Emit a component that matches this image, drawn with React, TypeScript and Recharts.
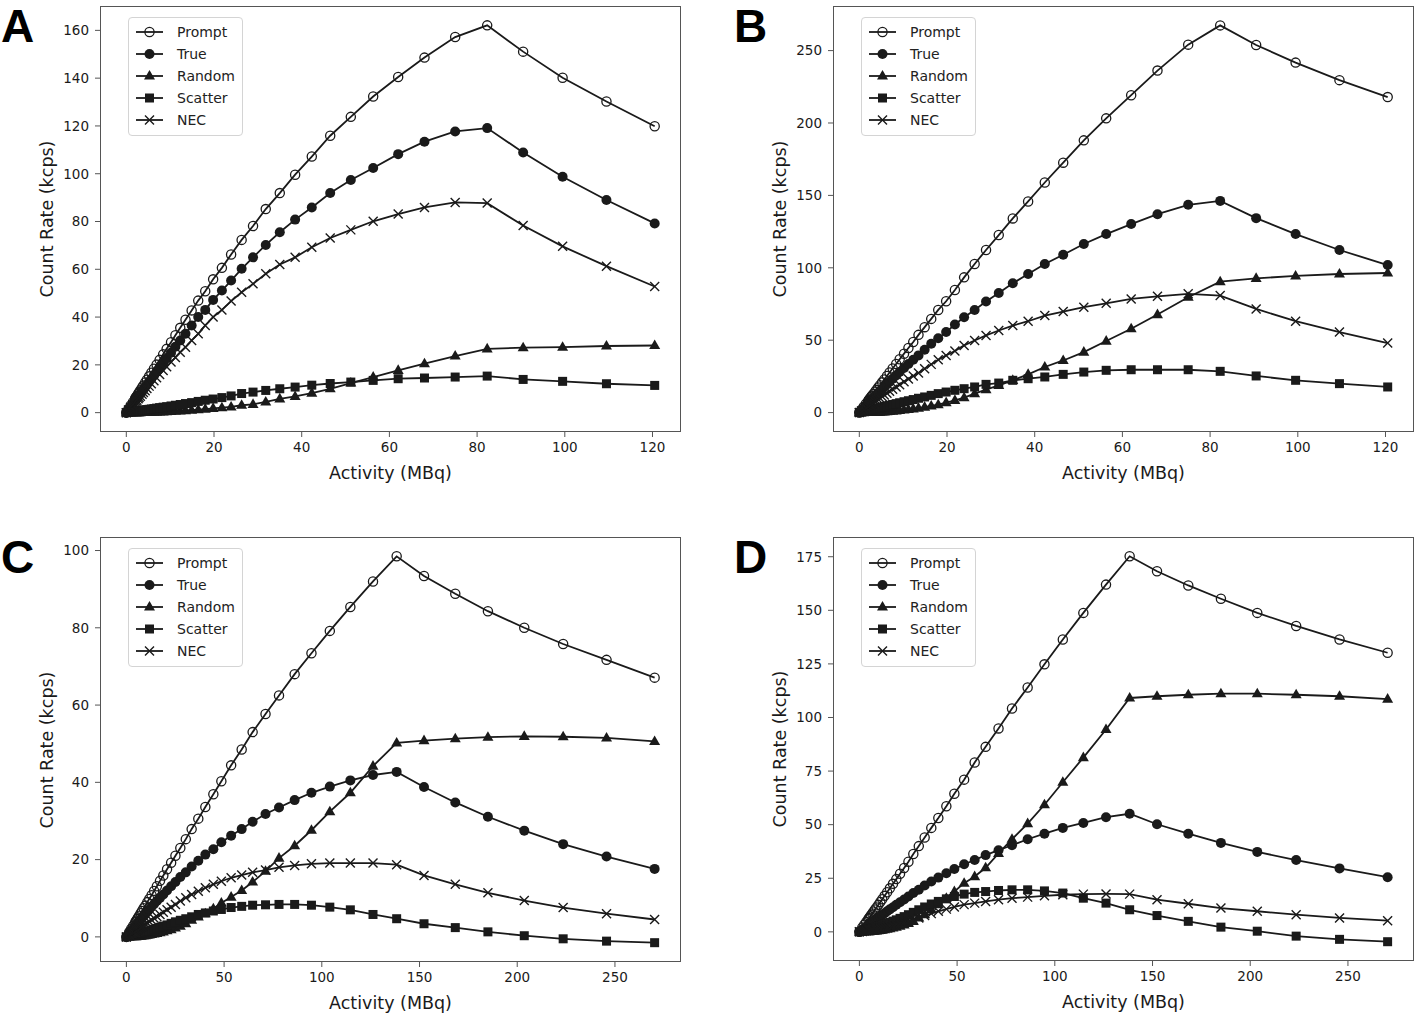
import { LineChart, Line, XAxis, YAxis } from "recharts";

// activity (MBq) at each frame, panels A/B and C/D
const activityAB = [0, 0.5, 1.0, 1.5, 2.0, 2.2, 2.4, 2.7, 2.9, 3.2, 3.6, 3.9, 4.3, 4.7, 5.2, 5.7, 6.3, 6.9, 7.6, 8.4, 9.2, 10.2, 11.2, 12.3, 13.5, 14.9, 16.4, 18.0, 19.8, 21.8, 23.9, 26.3, 28.9, 31.8, 35.0, 38.5, 42.3, 46.5, 51.2, 56.3, 62.0, 68.0, 75.0, 82.3, 90.5, 99.5, 109.5, 120.5];
const activityCD = [0, 1.5, 2.5, 3.5, 4.5, 5.0, 5.5, 6.0, 6.6, 7.3, 8.0, 8.8, 9.7, 10.7, 11.7, 12.9, 14.2, 15.6, 17.2, 18.9, 20.8, 22.9, 25.1, 27.6, 30.4, 33.4, 36.8, 40.4, 44.5, 48.6, 53.6, 59.0, 64.6, 71.2, 78.1, 86.1, 94.7, 104.1, 114.6, 126.2, 138.3, 152.3, 168.3, 185.0, 203.6, 223.5, 245.7, 270.3];

// panel A (kcps)
const promptA = [0, 1.5, 3.0, 4.4, 5.9, 6.5, 7.0, 7.9, 8.5, 9.4, 10.5, 11.4, 12.6, 13.8, 15.2, 16.7, 18.4, 20.1, 22.1, 24.4, 26.7, 29.5, 32.4, 35.5, 38.9, 42.8, 46.9, 50.8, 55.8, 60.6, 66.2, 72.3, 78.1, 85.2, 91.9, 99.6, 107.2, 115.9, 123.8, 132.3, 140.5, 148.6, 157.2, 162.1, 151.1, 140.2, 130.2, 119.9];
const trueA = [0, 1.25, 2.5, 3.75, 5.0, 5.5, 6.0, 6.7, 7.2, 8.0, 8.9, 9.7, 10.7, 11.7, 12.9, 14.1, 15.6, 17.1, 18.8, 20.7, 22.7, 25.1, 27.6, 30.2, 33.0, 36.5, 40.0, 43.0, 47.2, 51.1, 55.3, 60.2, 65.0, 70.2, 75.5, 80.8, 85.9, 91.9, 97.4, 102.4, 108.2, 113.4, 117.7, 119.1, 108.9, 98.7, 89.0, 79.2];
const randomA = [0, 0.003, 0.008, 0.014, 0.02, 0.025, 0.03, 0.035, 0.04, 0.05, 0.06, 0.07, 0.09, 0.11, 0.13, 0.16, 0.19, 0.23, 0.28, 0.34, 0.41, 0.5, 0.6, 0.72, 0.87, 1.05, 1.25, 1.5, 1.8, 2.1, 2.4, 3.1, 3.5, 4.5, 5.8, 6.8, 8.2, 10.0, 12.4, 14.9, 17.7, 20.5, 23.7, 26.7, 27.2, 27.4, 27.9, 28.1];
const scatterA = [0, 0.14, 0.28, 0.41, 0.54, 0.59, 0.65, 0.73, 0.78, 0.86, 0.97, 1.05, 1.16, 1.27, 1.4, 1.55, 1.7, 1.9, 2.1, 2.3, 2.5, 2.8, 3.1, 3.4, 3.8, 4.2, 4.7, 5.2, 5.7, 6.3, 7.0, 8.0, 8.6, 9.3, 10.0, 10.7, 11.5, 12.2, 12.8, 13.5, 14.2, 14.5, 14.9, 15.3, 13.9, 13.1, 12.1, 11.4];
const necA = [0, 1.1, 2.15, 3.2, 4.3, 4.8, 5.2, 5.8, 6.3, 6.9, 7.7, 8.4, 9.2, 10.1, 11.1, 12.1, 13.4, 14.6, 16.0, 17.6, 19.2, 21.2, 23.1, 25.3, 27.4, 30.2, 33.0, 36.5, 40.0, 43.0, 46.7, 50.4, 53.9, 58.1, 62.0, 65.0, 69.2, 73.1, 76.5, 80.1, 83.1, 85.9, 88.0, 87.7, 78.3, 69.6, 61.3, 52.8];

// panel B
const promptB = [0, 2.0, 4.05, 6.1, 8.1, 8.9, 9.7, 10.9, 11.7, 12.9, 14.5, 15.7, 17.3, 18.9, 20.9, 22.9, 25.3, 27.7, 30.5, 33.6, 36.8, 40.7, 44.6, 48.8, 53.7, 59.0, 64.7, 70.9, 76.9, 84.7, 93.4, 102.6, 112.3, 122.6, 134.1, 145.8, 158.9, 172.6, 188.0, 203.2, 219.2, 236.2, 254.1, 267.4, 253.9, 241.7, 229.6, 217.9];
const trueB = [0, 1.6, 3.2, 4.8, 6.4, 7.0, 7.6, 8.6, 9.2, 10.1, 11.3, 12.3, 13.5, 14.7, 16.2, 17.7, 19.5, 21.3, 23.4, 25.7, 28.0, 30.8, 33.5, 36.5, 39.5, 43.4, 47.5, 51.4, 55.6, 60.8, 65.9, 70.9, 76.7, 82.6, 89.3, 95.7, 102.6, 109.0, 116.4, 123.3, 130.2, 137.0, 143.5, 146.2, 134.3, 123.3, 112.3, 101.9];
const randomB = [0, 0.01, 0.03, 0.05, 0.07, 0.09, 0.1, 0.13, 0.15, 0.18, 0.22, 0.26, 0.32, 0.38, 0.47, 0.56, 0.68, 0.82, 1.0, 1.2, 1.45, 1.8, 2.15, 2.6, 3.1, 3.8, 4.6, 5.5, 6.9, 8.5, 10.3, 13.1, 15.8, 18.8, 22.3, 26.4, 31.5, 36.0, 41.8, 49.4, 57.9, 67.7, 79.7, 90.4, 92.7, 94.4, 95.7, 96.4];
const scatterB = [0, 0.38, 0.75, 1.1, 1.5, 1.6, 1.8, 2.0, 2.15, 2.35, 2.65, 2.9, 3.2, 3.5, 3.85, 4.2, 4.65, 5.1, 5.6, 6.2, 6.8, 7.5, 8.2, 9.0, 9.9, 10.8, 11.9, 13.1, 14.2, 15.4, 16.5, 17.7, 19.5, 20.4, 22.3, 23.4, 24.6, 26.4, 28.0, 29.2, 29.6, 29.6, 29.6, 28.5, 25.3, 22.3, 20.0, 17.7];
const necB = [0, 1.1, 2.2, 3.3, 4.4, 4.8, 5.2, 5.9, 6.3, 6.9, 7.8, 8.4, 9.3, 10.1, 11.1, 12.2, 13.4, 14.7, 16.1, 17.7, 19.3, 21.3, 23.2, 25.3, 27.3, 30.3, 33.3, 36.5, 39.5, 42.5, 46.4, 49.8, 53.3, 56.7, 60.1, 63.1, 67.0, 69.8, 72.8, 75.5, 78.5, 80.3, 82.0, 80.8, 71.6, 63.1, 55.6, 48.0];

// panel C
const promptC = [0, 1.3, 2.1, 2.9, 3.8, 4.2, 4.6, 5.0, 5.5, 6.1, 6.7, 7.4, 8.1, 9.0, 9.8, 10.8, 11.9, 13.1, 14.5, 15.9, 17.5, 19.2, 21.0, 23.0, 25.3, 27.9, 30.6, 33.6, 36.9, 40.3, 44.4, 48.5, 53.0, 57.7, 62.5, 68.0, 73.4, 79.2, 85.4, 92.0, 98.5, 93.4, 88.8, 84.3, 80.0, 75.8, 71.7, 67.1];
const trueC = [0, 0.95, 1.6, 2.2, 2.8, 3.1, 3.4, 3.7, 4.1, 4.5, 4.9, 5.4, 5.9, 6.5, 7.1, 7.8, 8.5, 9.3, 10.1, 11.0, 12.0, 13.1, 14.2, 15.5, 16.7, 18.2, 19.7, 21.3, 22.7, 24.5, 26.2, 27.9, 29.8, 31.8, 33.5, 35.4, 37.3, 38.9, 40.5, 41.9, 42.7, 38.8, 34.8, 31.1, 27.5, 24.0, 20.8, 17.6];
const randomC = [0, 0.01, 0.03, 0.05, 0.07, 0.09, 0.11, 0.13, 0.16, 0.2, 0.24, 0.29, 0.35, 0.43, 0.51, 0.62, 0.75, 0.9, 1.1, 1.3, 1.6, 1.9, 2.3, 2.8, 3.4, 4.3, 5.2, 6.0, 7.3, 8.8, 10.3, 12.0, 14.2, 17.0, 20.4, 23.6, 27.6, 32.4, 37.3, 44.2, 50.2, 50.8, 51.3, 51.7, 51.9, 51.8, 51.5, 50.6];
const scatterC = [0, 0.2, 0.33, 0.47, 0.6, 0.66, 0.73, 0.8, 0.88, 0.98, 1.08, 1.2, 1.3, 1.45, 1.6, 1.8, 2.0, 2.2, 2.5, 2.8, 3.1, 3.5, 3.9, 4.3, 4.7, 5.2, 5.8, 6.2, 6.7, 7.1, 7.6, 7.9, 8.2, 8.3, 8.4, 8.4, 8.2, 7.7, 7.0, 5.8, 4.7, 3.4, 2.4, 1.3, 0.3, -0.5, -1.1, -1.5];
const necC = [0, 0.5, 0.85, 1.2, 1.5, 1.7, 1.9, 2.1, 2.3, 2.5, 2.7, 3.0, 3.3, 3.6, 4.0, 4.4, 4.8, 5.3, 5.8, 6.4, 7.0, 7.7, 8.4, 9.3, 10.1, 11.0, 11.8, 12.7, 13.6, 14.4, 15.3, 16.0, 16.7, 17.3, 18.0, 18.5, 18.9, 19.1, 19.1, 19.1, 18.7, 15.9, 13.6, 11.4, 9.4, 7.6, 6.0, 4.5];

// panel D
const promptD = [0, 2.0, 3.3, 4.6, 5.9, 6.5, 7.2, 7.8, 8.6, 9.5, 10.4, 11.4, 12.6, 13.9, 15.2, 16.8, 18.5, 20.3, 22.4, 24.6, 27.1, 29.8, 32.7, 36.3, 40.0, 44.0, 48.5, 53.1, 58.6, 64.4, 71.0, 79.0, 86.3, 94.9, 104.2, 114.0, 124.8, 136.4, 148.8, 162.0, 175.2, 168.2, 161.6, 155.4, 148.8, 142.7, 136.4, 130.2];
const trueD = [0, 1.0, 1.7, 2.4, 3.1, 3.4, 3.8, 4.1, 4.5, 5.0, 5.5, 6.0, 6.6, 7.2, 7.9, 8.7, 9.6, 10.5, 11.5, 12.6, 13.8, 15.1, 16.5, 18.1, 19.6, 21.6, 23.5, 25.3, 27.3, 29.3, 31.5, 33.5, 35.8, 38.1, 40.4, 43.2, 45.8, 48.5, 50.8, 53.5, 55.1, 50.2, 45.8, 41.5, 37.3, 33.5, 29.6, 25.5];
const randomD = [0, 0.01, 0.04, 0.08, 0.12, 0.15, 0.19, 0.22, 0.27, 0.33, 0.4, 0.48, 0.58, 0.71, 0.85, 1.03, 1.25, 1.5, 1.8, 2.2, 2.6, 3.2, 3.9, 4.9, 6.5, 8.0, 10.3, 12.7, 15.7, 18.8, 22.7, 25.8, 29.9, 36.6, 43.2, 50.5, 59.3, 69.8, 81.3, 94.4, 109.1, 109.9, 110.6, 111.1, 111.1, 110.6, 109.9, 108.6];
const scatterD = [0, 0.35, 0.6, 0.82, 1.05, 1.17, 1.3, 1.45, 1.6, 1.8, 2.0, 2.25, 2.5, 2.8, 3.1, 3.5, 3.9, 4.4, 5.0, 5.6, 6.3, 7.1, 8.0, 9.1, 10.3, 11.6, 13.0, 14.2, 15.4, 16.5, 17.6, 18.4, 18.8, 19.3, 19.6, 19.6, 19.1, 18.1, 15.7, 13.4, 10.3, 7.6, 4.9, 2.2, 0.3, -2.0, -3.5, -4.6];
const necD = [0, 0.2, 0.35, 0.5, 0.62, 0.7, 0.78, 0.86, 0.96, 1.08, 1.2, 1.35, 1.5, 1.7, 1.9, 2.15, 2.4, 2.7, 3.0, 3.4, 3.8, 4.3, 4.9, 5.7, 6.5, 7.6, 8.5, 9.6, 10.6, 11.6, 12.7, 13.4, 14.2, 15.0, 15.7, 16.2, 16.8, 17.3, 17.6, 17.7, 17.6, 15.0, 13.1, 11.1, 9.6, 8.0, 6.5, 5.2];

const seriesNames = ["Prompt", "True", "Random", "Scatter", "NEC"];
const markerKinds = ["open", "dot", "tri", "sq", "x"];

const ticksAB = [0, 20, 40, 60, 80, 100, 120];
const ticksCD = [0, 50, 100, 150, 200, 250];
const yTicksA = [0, 20, 40, 60, 80, 100, 120, 140, 160];
const yTicksB = [0, 50, 100, 150, 200, 250];
const yTicksC = [0, 20, 40, 60, 80, 100];
const yTicksD = [0, 25, 50, 75, 100, 125, 150, 175];

const INK = "#1a1a1a";
const SPINE = "#555";
const FONT = "'DejaVu Sans', sans-serif";

function Marker({ kind, x, y }: { kind: string; x: number; y: number }) {
  if (kind === "open") return <circle cx={x} cy={y} r={4.6} fill="none" stroke={INK} strokeWidth={1.3} />;
  if (kind === "dot") return <circle cx={x} cy={y} r={5} fill={INK} />;
  if (kind === "tri") return <path d={`M${x},${y - 6}L${x + 5.5},${y + 3.6}L${x - 5.5},${y + 3.6}Z`} fill={INK} />;
  if (kind === "sq") return <rect x={x - 4.5} y={y - 4.5} width={9} height={9} fill={INK} />;
  return (
    <path
      d={`M${x - 4.5},${y - 4.5}L${x + 4.5},${y + 4.5}M${x - 4.5},${y + 4.5}L${x + 4.5},${y - 4.5}`}
      stroke={INK}
      strokeWidth={1.4}
      fill="none"
    />
  );
}

const makeDot = (kind: string) => (p: any) => {
  if (p.cx == null || p.cy == null) return <g key={`d-${p.index}`} />;
  return (
    <g key={`d-${kind}-${p.index}`}>
      <Marker kind={kind} x={p.cx} y={p.cy} />
    </g>
  );
};

type PanelProps = {
  letter: string;
  left: number;
  top: number;
  plotH: number;
  activity: number[];
  series: number[][];
  xDomain: number[];
  xTicks: number[];
  yDomain: number[];
  yTicks: number[];
};

const PLOT_L = 100;
const PLOT_T = 6;
const PLOT_W = 581;
const CHART_W = 683;

function Panel({ letter, left, top, plotH, activity, series, xDomain, xTicks, yDomain, yTicks }: PanelProps) {
  const rows = activity.map((x, i) => {
    const r: any = { x };
    series.forEach((s, k) => (r["s" + k] = s[i]));
    return r;
  });
  const chartH = 480;
  const xAxisH = 30;
  const marginBottom = chartH - PLOT_T - plotH - xAxisH;

  return (
    <div style={{ position: "absolute", left, top, width: CHART_W, height: chartH }}>
      <LineChart
        width={CHART_W}
        height={chartH}
        data={rows}
        margin={{ top: PLOT_T, right: CHART_W - PLOT_L - PLOT_W, left: 40, bottom: marginBottom }}
      >
        <XAxis
          type="number"
          dataKey="x"
          domain={xDomain}
          ticks={xTicks}
          allowDataOverflow
          height={xAxisH}
          axisLine={false}
          tickLine={{ stroke: SPINE }}
          tickSize={5}
          tickMargin={5}
          tick={{ fill: INK, fontSize: 13.5, fontFamily: FONT }}
        />
        <YAxis
          type="number"
          domain={yDomain}
          ticks={yTicks}
          allowDataOverflow
          width={60}
          axisLine={false}
          tickLine={{ stroke: SPINE }}
          tickSize={5}
          tickMargin={6}
          tick={{ fill: INK, fontSize: 13.5, fontFamily: FONT }}
        />
        {series.map((_, k) => (
          <Line
            key={seriesNames[k]}
            type="linear"
            dataKey={"s" + k}
            stroke={INK}
            strokeWidth={1.8}
            dot={makeDot(markerKinds[k])}
            activeDot={false}
            isAnimationActive={false}
          />
        ))}
      </LineChart>

      {/* axes frame */}
      <div
        style={{
          position: "absolute",
          left: PLOT_L,
          top: PLOT_T,
          width: PLOT_W,
          height: plotH,
          border: `1px solid ${SPINE}`,
          boxSizing: "border-box",
          pointerEvents: "none",
        }}
      />

      {/* legend */}
      <div
        style={{
          position: "absolute",
          left: PLOT_L + 28,
          top: PLOT_T + 11,
          width: 115,
          height: 119,
          boxSizing: "border-box",
          border: "1px solid #d4d4d4",
          borderRadius: 4,
          background: "rgba(255,255,255,0.85)",
          paddingTop: 3,
        }}
      >
        {seriesNames.map((name, k) => (
          <div key={name} style={{ position: "relative", height: 22 }}>
            <svg width={40} height={22} style={{ position: "absolute", left: 0, top: 0 }}>
              <line x1={7} x2={34} y1={11} y2={11} stroke={INK} strokeWidth={1.8} />
              <Marker kind={markerKinds[k]} x={20.5} y={11} />
            </svg>
            <span
              style={{
                position: "absolute",
                left: 48,
                top: 0,
                lineHeight: "22px",
                fontSize: 14,
                fontFamily: FONT,
                color: "#222",
                whiteSpace: "nowrap",
              }}
            >
              {name}
            </span>
          </div>
        ))}
      </div>

      {/* axis titles */}
      <div
        style={{
          position: "absolute",
          left: PLOT_L,
          width: PLOT_W,
          top: PLOT_T + plotH + 31,
          textAlign: "center",
          fontSize: 17.5,
          lineHeight: "20px",
          fontFamily: FONT,
          color: "#1a1a1a",
        }}
      >
        Activity (MBq)
      </div>
      <div
        style={{
          position: "absolute",
          left: 47,
          top: PLOT_T + plotH / 2,
          transform: "translate(-50%, -50%) rotate(-90deg)",
          fontSize: 17.5,
          lineHeight: "20px",
          fontFamily: FONT,
          color: "#1a1a1a",
          whiteSpace: "nowrap",
        }}
      >
        Count Rate (kcps)
      </div>

      {/* panel letter */}
      <div
        style={{
          position: "absolute",
          left: 1,
          top: 0,
          fontSize: 46,
          lineHeight: "normal",
          fontWeight: 700,
          fontFamily: "'Liberation Sans', Arial, sans-serif",
          color: "#000",
          marginTop: -1,
        }}
      >
        {letter}
      </div>
    </div>
  );
}

export default function App() {
  return (
    <div style={{ position: "relative", width: 1416, height: 1015, background: "#fff", overflow: "hidden" }}>
      <style>{"body{margin:0}"}</style>
      <Panel
        letter="A"
        left={0}
        top={0}
        plotH={426}
        activity={activityAB}
        series={[promptA, trueA, randomA, scatterA, necA]}
        xDomain={[-6.0, 126.5]}
        xTicks={ticksAB}
        yDomain={[-8.1, 170.2]}
        yTicks={yTicksA}
      />
      <Panel
        letter="B"
        left={733}
        top={0}
        plotH={426}
        activity={activityAB}
        series={[promptB, trueB, randomB, scatterB, necB]}
        xDomain={[-6.0, 126.5]}
        xTicks={ticksAB}
        yDomain={[-13.4, 280.8]}
        yTicks={yTicksB}
      />
      <Panel
        letter="C"
        left={0}
        top={531}
        plotH={425}
        activity={activityCD}
        series={[promptC, trueC, randomC, scatterC, necC]}
        xDomain={[-13.5, 283.8]}
        xTicks={ticksCD}
        yDomain={[-6.5, 103.5]}
        yTicks={yTicksC}
      />
      <Panel
        letter="D"
        left={733}
        top={531}
        plotH={424}
        activity={activityCD}
        series={[promptD, trueD, randomD, scatterD, necD]}
        xDomain={[-13.5, 283.8]}
        xTicks={ticksCD}
        yDomain={[-13.6, 184.2]}
        yTicks={yTicksD}
      />
    </div>
  );
}
